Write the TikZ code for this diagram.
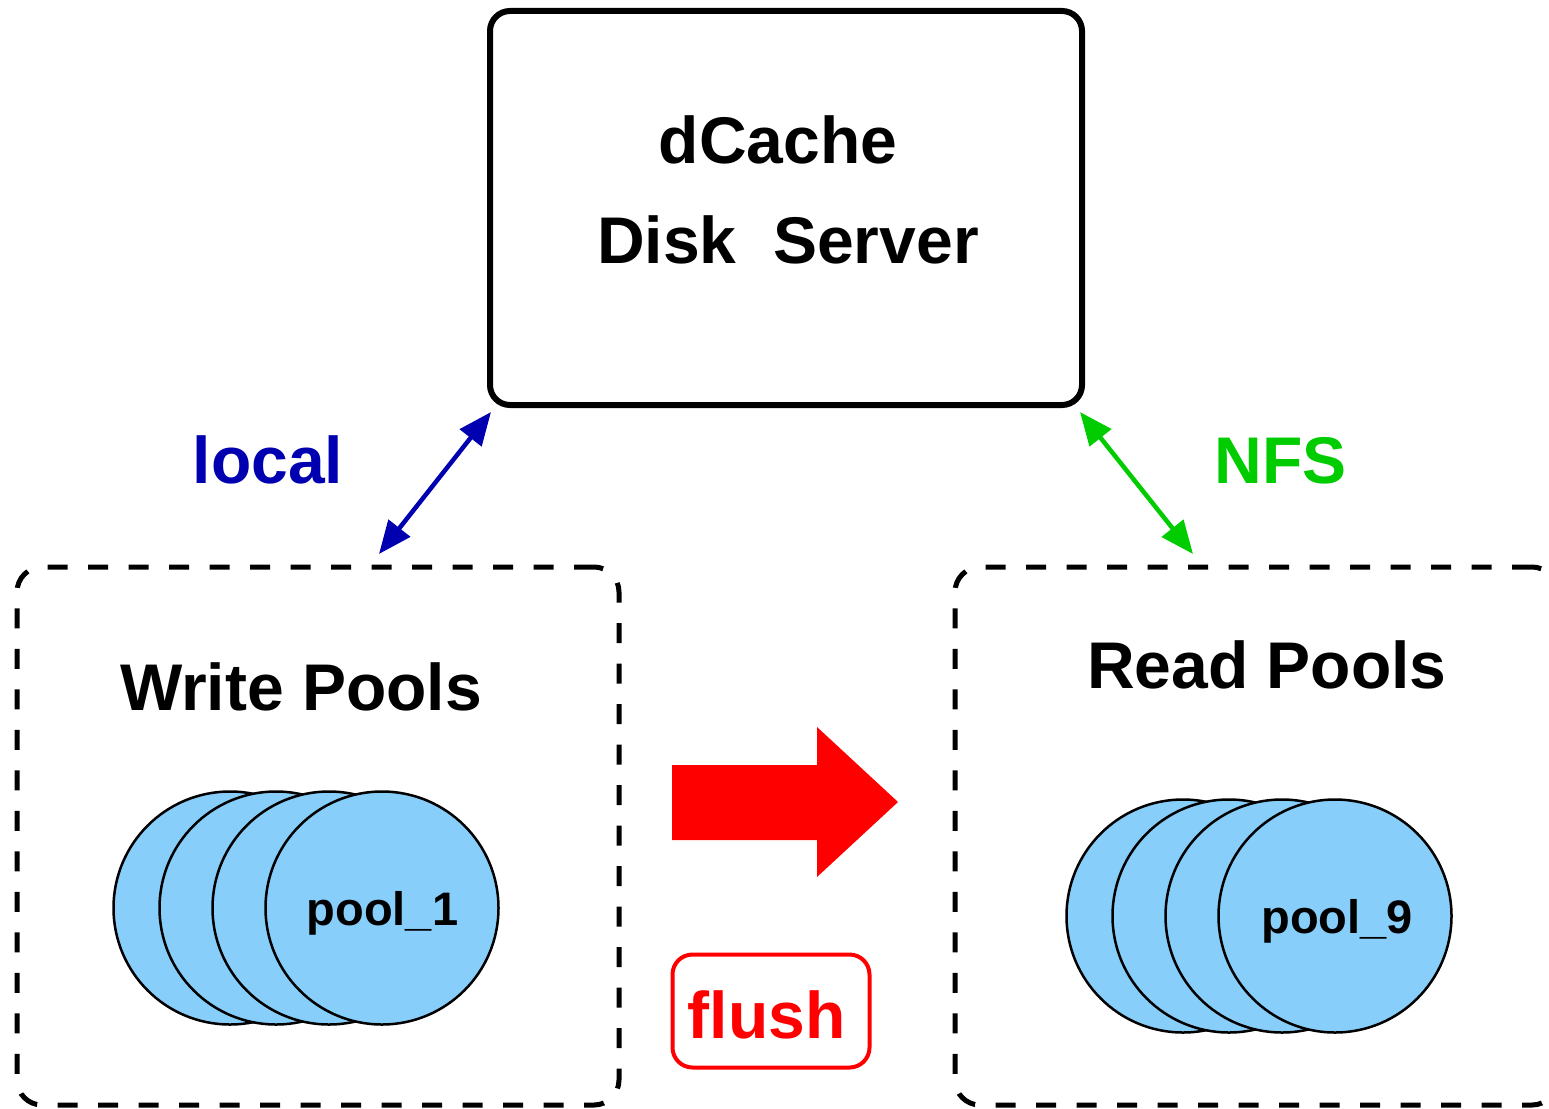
\documentclass[tikz,border=0pt]{standalone}
\usepackage{fontspec}
\setmainfont{Liberation Sans}
\usetikzlibrary{arrows.meta,calc}
\definecolor{localblue}{RGB}{0,0,176}
\definecolor{nfsgreen}{RGB}{0,204,0}
\definecolor{poolfill}{RGB}{135,206,250}
\begin{document}
\begin{tikzpicture}[x=1pt,y=-1pt,
  big/.style={font=\fontsize{66}{72}\selectfont\bfseries, inner sep=0pt, anchor=base},
  small/.style={font=\fontsize{47}{52}\selectfont\bfseries, inner sep=0pt, anchor=base},
  poolbox/.style={draw, dash pattern=on 20pt off 20.5pt, line width=5pt, rounded corners=25pt,
                  minimum width=602pt, minimum height=538pt, inner sep=0pt},
  disk/.style={circle, draw, fill=poolfill, line width=2.5pt, minimum size=233pt, inner sep=0pt},
  biarrow/.style={line width=4.5pt, {Triangle[length=33pt,width=27pt]}-{Triangle[length=33pt,width=27pt]}},
]
\useasboundingbox (0,0) rectangle (1549,1108);

% server
\node[draw, line width=6pt, rounded corners=20pt, minimum width=592pt, minimum height=394pt, inner sep=0pt] (server) at (786,208) {};
\node[big] (srvA) at (778,163) {dCache};
\node[big] (srvB) at (788,263) {Disk\ \ Server};

% pool boxes
\node[poolbox] (wp) at (318,836) {};
\node[poolbox] (rp) at (1256,836) {};
\node[big] (wpl) at (301,710) {Write Pools};
\node[big] (rpl) at (1267,688) {Read Pools};

% write disks
\node[disk] (w1) at (230,908) {};
\node[disk] (w2) at (276,908) {};
\node[disk] (w3) at (329,908) {};
\node[disk] (w4) at (382,908) {};
\node[small] (w4t) at (382.5,925) {pool\_1};

% read disks
\node[disk] (r1) at (1183,916) {};
\node[disk] (r2) at (1229,916) {};
\node[disk] (r3) at (1282,916) {};
\node[disk] (r4) at (1335,916) {};
\node[small] (r4t) at (1337,933) {pool\_9};

% connectors
\coordinate (lt) at ($(server.south west)+(4,4)$);
\coordinate (lb) at (379,554);
\coordinate (nt) at ($(server.south east)+(-5,4)$);
\coordinate (nb) at (1193,554);
\draw[biarrow, localblue] (lb) -- (lt);
\draw[biarrow, nfsgreen] (nb) -- (nt);
\node[big, text=localblue] (loc) at (268,483) {local};
\node[big, text=nfsgreen] (nfs) at (1280.5,483) {NFS};

% flush arrow
\fill[red] (672,765) -- (817,765) -- (817,727) -- (898,802) -- (817,877) -- (817,840) -- (672,840) -- cycle;
\node[draw=red, line width=4pt, rounded corners=20pt, minimum width=197pt, minimum height=113pt, inner sep=0pt] (flushbox) at (771,1011) {};
\node[big, text=red] (flush) at (766.5,1038) {flush};
\end{tikzpicture}
\end{document}
